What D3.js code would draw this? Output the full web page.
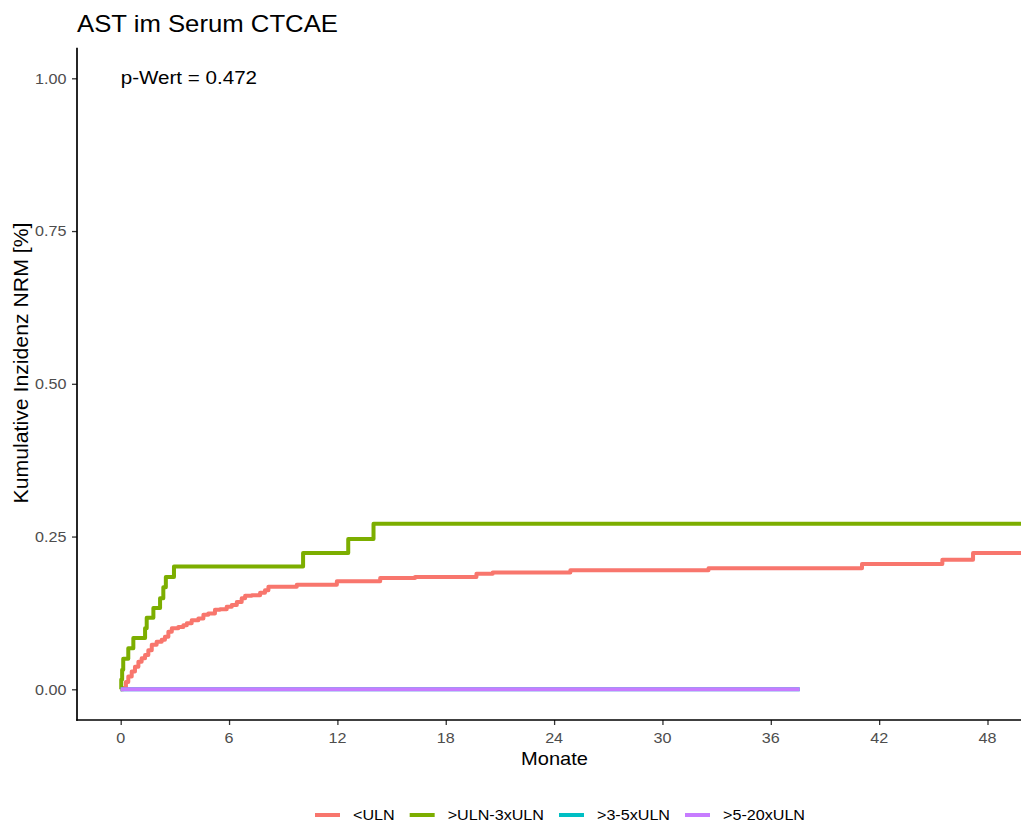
<!DOCTYPE html>
<html>
<head>
<meta charset="utf-8">
<script src="https://cdn.jsdelivr.net/npm/d3@7"></script>
<style>
  html, body { margin: 0; padding: 0; background: #ffffff; }
  svg { display: block; font-family: "Liberation Sans", Arial, sans-serif; }
</style>
</head>
<body>
<svg id="chart" width="1021" height="825"></svg>
<script>
// Cumulative incidence of NRM by AST grade (CTCAE), step curves in months
const groups = ["<ULN", ">ULN-3xULN", ">3-5xULN", ">5-20xULN"];
const colors = ["#F8766D", "#7CAE00", "#00BFC4", "#C77CFF"];

// [month, cumulative incidence]
const ulnLow = [
  [0, 0], [0.14, 0.002], [0.29, 0.012], [0.42, 0.021], [0.61, 0.029], [0.79, 0.037],
  [0.98, 0.045], [1.16, 0.051], [1.35, 0.056], [1.53, 0.064], [1.72, 0.073],
  [1.99, 0.078], [2.27, 0.081], [2.45, 0.086], [2.64, 0.094], [2.83, 0.100],
  [3.19, 0.102], [3.47, 0.105], [3.66, 0.108], [3.93, 0.113], [4.30, 0.116],
  [4.58, 0.122], [4.85, 0.124], [5.22, 0.130], [5.50, 0.131], [5.87, 0.135],
  [6.15, 0.138], [6.43, 0.143], [6.70, 0.149], [6.89, 0.153], [7.26, 0.154],
  [7.72, 0.158], [7.99, 0.162], [8.18, 0.168], [9.75, 0.171], [11.97, 0.177],
  [14.37, 0.182], [16.3, 0.184], [19.7, 0.189], [20.6, 0.191], [24.9, 0.195],
  [32.55, 0.198], [41.05, 0.205], [45.5, 0.212], [47.2, 0.223], [52, 0.223]
];
const uln1to3 = [
  [0, 0], [0.03, 0.016], [0.08, 0.032], [0.14, 0.050], [0.42, 0.067], [0.70, 0.084],
  [1.35, 0.100], [1.44, 0.117], [1.81, 0.133], [2.18, 0.149], [2.36, 0.167],
  [2.50, 0.184], [2.95, 0.201], [10.1, 0.223], [12.6, 0.246], [14.0, 0.271],
  [52, 0.271]
];
const uln3to5 = [[0, 0], [37.6, 0]];
const uln5to20 = [[0, 0], [37.6, 0]];
const seriesData = [ulnLow, uln1to3, uln3to5, uln5to20];

const xTicks = [0, 6, 12, 18, 24, 30, 36, 42, 48];
const yTicks = [0, 0.25, 0.5, 0.75, 1.0];
const yTickLabels = ["0.00", "0.25", "0.50", "0.75", "1.00"];

const titleText = "AST im Serum CTCAE";
const pText = "p-Wert = 0.472";
const xTitle = "Monate";
const yTitle = "Kumulative Inzidenz NRM [%]";

// panel geometry
const panel = { left: 77, top: 47.7, right: 1032, bottom: 720 };
const STRETCH = 1.09;

const svg = d3.select("#chart");
const x = d3.scaleLinear().domain([0, 48]).range([120.7, 987.5]);
const y = d3.scaleLinear().domain([0, 1]).range([689.3, 78.3]);

function addText(g, str, px, py, size, anchor, fill, rot) {
  const t = g.append("text")
    .attr("transform", `translate(${px},${py})` + (rot ? ` rotate(${rot})` : "") + ` scale(${STRETCH},1)`)
    .attr("text-anchor", anchor)
    .attr("font-size", size)
    .attr("fill", fill)
    .text(str);
  return t;
}

// clip for the plotting panel
svg.append("defs").append("clipPath").attr("id", "panelClip")
  .append("rect")
  .attr("x", panel.left).attr("y", panel.top)
  .attr("width", panel.right - panel.left).attr("height", panel.bottom - panel.top);

// curves
const line = d3.line()
  .x(d => x(d[0]))
  .y(d => y(d[1]))
  .curve(d3.curveStepAfter);

const curves = svg.append("g").attr("clip-path", "url(#panelClip)");
seriesData.forEach((s, i) => {
  curves.append("path")
    .datum(s)
    .attr("d", line)
    .attr("fill", "none")
    .attr("stroke", colors[i])
    .attr("stroke-width", 4)
    .attr("stroke-linejoin", "round");
});

// axes
const xAxis = svg.append("g").attr("transform", `translate(0,${panel.bottom})`)
  .call(d3.axisBottom(x).tickValues(xTicks).tickSize(5).tickPadding(4).tickFormat(d3.format("d")));
xAxis.select(".domain").remove();
xAxis.selectAll(".tick line").attr("stroke", "#333333").attr("stroke-width", 1.3);
xAxis.selectAll(".tick text").remove();
xTicks.forEach(v => addText(svg, String(v), x(v), 742.5, 14.8, "middle", "#4D4D4D"));

const yAxis = svg.append("g").attr("transform", `translate(${panel.left},0)`)
  .call(d3.axisLeft(y).tickValues(yTicks).tickSize(5).tickFormat((d, i) => yTickLabels[i]));
yAxis.select(".domain").remove();
yAxis.selectAll(".tick line").attr("stroke", "#333333").attr("stroke-width", 1.3);
yAxis.selectAll(".tick text").remove();
yTicks.forEach((v, i) => addText(svg, yTickLabels[i], 66.5, y(v) + 5.2, 14.8, "end", "#4D4D4D"));

// axis lines
svg.append("line")
  .attr("x1", panel.left).attr("x2", panel.left)
  .attr("y1", panel.top).attr("y2", panel.bottom + 0.8)
  .attr("stroke", "#000").attr("stroke-width", 1.7);
svg.append("line")
  .attr("x1", panel.left - 0.8).attr("x2", panel.right)
  .attr("y1", panel.bottom).attr("y2", panel.bottom)
  .attr("stroke", "#000").attr("stroke-width", 1.7);

// titles and annotation
addText(svg, titleText, 77, 31.5, 23.6, "start", "#000");
addText(svg, pText, x(0), 83.5, 18.9, "start", "#000");
addText(svg, xTitle, (panel.left + panel.right) / 2, 765, 18.4, "middle", "#000");
addText(svg, yTitle, 27.5, 363, 19.5, "middle", "#000", -90);

// legend
const legend = svg.append("g");
let lx = 315;
const ly = 815;
groups.forEach((name, i) => {
  legend.append("line")
    .attr("x1", lx).attr("x2", lx + 25)
    .attr("y1", ly).attr("y2", ly)
    .attr("stroke", colors[i]).attr("stroke-width", 4);
  const t = addText(legend, name, lx + 38, ly + 5.2, 14.8, "start", "#000");
  const w = t.node().getComputedTextLength() * STRETCH;
  lx = lx + 38 + w + 15;
});
</script>
</body>
</html>
